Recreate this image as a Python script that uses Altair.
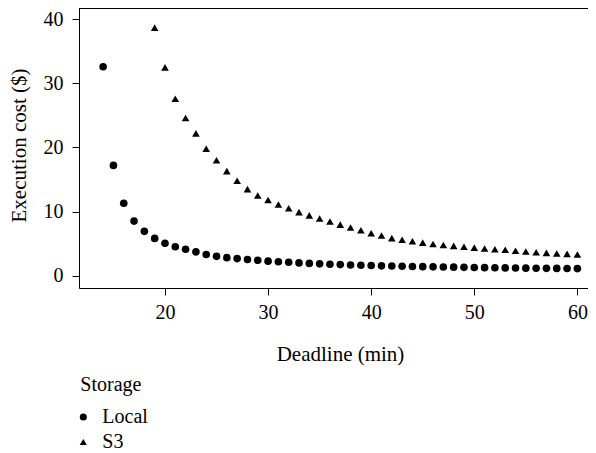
import altair as alt
import pandas as pd

local_x = list(range(14, 61))
local_y = [32.6, 17.2, 11.3, 8.5, 6.9, 5.8, 5.05, 4.5, 4.1, 3.7, 3.3, 3.0, 2.8, 2.65,
           2.5, 2.4, 2.25, 2.15, 2.07, 1.98, 1.9, 1.83, 1.77, 1.71, 1.66, 1.61, 1.57,
           1.52, 1.49, 1.45, 1.42, 1.39, 1.36, 1.33, 1.31, 1.28, 1.26, 1.24, 1.22,
           1.20, 1.18, 1.16, 1.15, 1.13, 1.12, 1.10, 1.09]
s3_x = list(range(19, 61))
s3_y = [38.7, 32.5, 27.6, 24.6, 22.2, 19.8, 18.0, 16.3, 14.8, 13.5, 12.5, 11.8, 11.1,
        10.5, 9.9, 9.4, 8.9, 8.45, 7.95, 7.5, 7.08, 6.6, 6.25, 5.85, 5.6, 5.36, 5.15,
        4.94, 4.78, 4.63, 4.5, 4.37, 4.22, 4.1, 4.02, 3.87, 3.76, 3.65, 3.55, 3.45,
        3.38, 3.3]
storage = ["Local", "S3"]
x_ticks = [20, 30, 40, 50, 60]
y_ticks = [0, 10, 20, 30, 40]

df = pd.concat([
    pd.DataFrame({"deadline": local_x, "cost": local_y, "storage": storage[0]}),
    pd.DataFrame({"deadline": s3_x, "cost": s3_y, "storage": storage[1]}),
])

FONT = "'Liberation Serif', 'Times New Roman', serif"
W, H = 509, 280

points = alt.Chart(df).mark_point(filled=True, opacity=1, size=58).encode(
    x=alt.X("deadline:Q",
            scale=alt.Scale(domain=[11.66, 61.03], nice=False, zero=False),
            axis=alt.Axis(values=x_ticks, title="Deadline (min)", grid=False,
                          domain=True, domainColor="black", domainWidth=1,
                          tickSize=7, tickColor="black",
                          labelPadding=7, labelFontSize=20, labelFont=FONT,
                          labelColor="black", titleFont=FONT, titleFontSize=21,
                          titleFontWeight="normal", titleColor="black",
                          titleX=261, titleY=72, titleBaseline="alphabetic")),
    y=alt.Y("cost:Q",
            scale=alt.Scale(domain=[-1.94, 41.77], nice=False, zero=False),
            axis=alt.Axis(values=y_ticks, title="Execution cost ($)", grid=False,
                          domain=True, domainColor="black", domainWidth=1,
                          tickSize=7, tickColor="black",
                          labelPadding=9, labelFontSize=20, labelFont=FONT,
                          labelColor="black", titleFont=FONT, titleFontSize=21,
                          titleFontWeight="normal", titleColor="black",
                          titleX=-54, titleY=137, titleAngle=270,
                          titleBaseline="alphabetic")),
    shape=alt.Shape("storage:N",
                    scale=alt.Scale(domain=storage, range=["circle", "triangle-up"]),
                    legend=alt.Legend(title="Storage", orient="none", legendX=1.3,
                                      legendY=367, titleFont=FONT, titleFontSize=20,
                                      titleFontWeight="normal", titleColor="black",
                                      titlePadding=12, labelFont=FONT, labelFontSize=20,
                                      labelColor="black", labelOffset=9,
                                      symbolOffset=-7,
                                      rowPadding=5, symbolSize=50, padding=0,
                                      symbolFillColor="black", symbolStrokeColor="black")),
    color=alt.value("black"),
)

top_border = alt.Chart(df).mark_rule(color="black", strokeWidth=1).encode(
    x=alt.value(0), x2=alt.value(W), y=alt.value(0)
)

chart = alt.layer(top_border, points).properties(
    width=W, height=H,
    autosize=alt.AutoSizeParams(type="none"),
    padding={"left": 71, "top": 0, "right": 0, "bottom": 168},
).configure(font=FONT).configure_view(stroke=None)

chart.save("out.html", embed_options={"renderer": "svg", "actions": False})
